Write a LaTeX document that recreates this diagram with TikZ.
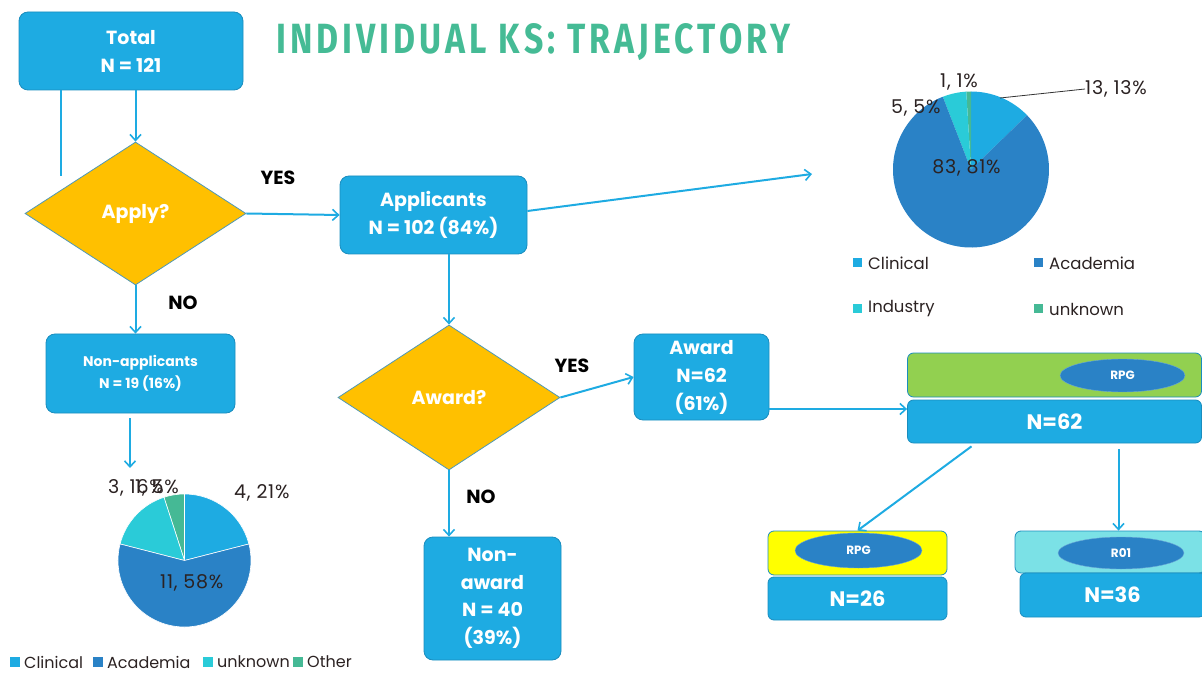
\documentclass[tikz,border=0pt]{standalone}
\usepackage{fontspec}
\usepackage{graphicx}
\setmainfont{Poppins}
\newfontfamily\headfont{Fira Sans}
\usetikzlibrary{positioning}
\usetikzlibrary{shapes.geometric}
\usetikzlibrary{arrows.meta}
\definecolor{boxblue}{HTML}{1EABE2}
\definecolor{boxedge}{HTML}{1A8DBE}
\definecolor{askfill}{HTML}{FFC000}
\definecolor{askedge}{HTML}{4E98B8}
\definecolor{clin}{HTML}{1EABE2}
\definecolor{acad}{HTML}{2A82C6}
\definecolor{cyanslice}{HTML}{2ACBD8}
\definecolor{greenslice}{HTML}{45B995}
\definecolor{titlegreen}{HTML}{45BB95}
\definecolor{rpggreen}{HTML}{92D050}
\definecolor{rpgyellow}{HTML}{FFFF00}
\definecolor{rteal}{HTML}{7BE1E6}
\definecolor{labeltext}{HTML}{2B2222}

\begin{document}
\begin{tikzpicture}[x=1pt, y=1pt,
		box/.style={draw=boxedge, fill=boxblue, rounded corners=9pt, text=white, font=\bfseries\fontsize{19}{28}\selectfont, align=center, inner sep=0pt, line width=0.8pt},
		band/.style={box, rounded corners=6pt, font=\bfseries\fontsize{21}{24}\selectfont},
		ask/.style={diamond, draw=askedge, fill=askfill, text=white, font=\bfseries\fontsize{19}{22}\selectfont, inner sep=0pt, line width=0.8pt},
		flow/.style={draw=boxblue, line width=2pt, -{Straight Barb[length=6pt, width=11pt, line width=1.6pt]}},
		answer/.style={font=\bfseries\fontsize{19}{22}\selectfont, text=black},
		pct/.style={font=\fontsize{19}{22}\selectfont\addfontfeatures{LetterSpace=4}, text=labeltext, inner sep=0pt},
		key/.style={font=\fontsize{16}{19}\selectfont, text=labeltext, anchor=west, inner sep=0pt},
		tag/.style={ellipse, draw=acad!70!white, fill=acad, text=white, font=\bfseries\fontsize{12}{14}\selectfont, minimum width=125pt, minimum height=33pt, inner sep=0pt}
	]
	\useasboundingbox (0,0) rectangle (1202,673);

	\node[box, minimum width=224pt, minimum height=78pt] (total) at (131,622) {Total\\N = 121};
	\node[anchor=south west, inner sep=0pt, text=titlegreen] (title) at (276,612)
		{\resizebox{514pt}{30pt}{\headfont\bfseries\addfontfeatures{LetterSpace=12}INDIVIDUAL KS: TRAJECTORY}};

	\node[ask, minimum width=221pt, minimum height=143pt] (apply) at (135.5,459.5) {Apply?};
	\node[box, minimum width=187pt, minimum height=78pt] (appl) at (433.5,458) {Applicants\\N = 102 (84\%)};
	\node[box, minimum width=189pt, minimum height=79pt, font=\bfseries\fontsize{14}{22}\selectfont] (nonapp) at (140.5,299.5) {Non-applicants\\N = 19 (16\%)};
	\node[ask, minimum width=222pt, minimum height=145pt] (award) at (449,275.5) {Award?};
	\node[box, minimum width=135pt, minimum height=86pt] (won) at (701.5,296) {Award\\N=62\\(61\%)};
	\node[box, minimum width=137pt, minimum height=123pt, font=\bfseries\fontsize{19}{27.5}\selectfont] (lost) at (492.5,74.5) {Non-\\award\\N = 40\\(39\%)};

	\node[answer] (yes1) at (278,495) {YES};
	\node[answer] (no1) at (183,370) {NO};
	\node[answer] (yes2) at (572,307) {YES};
	\node[answer] (no2) at (481,176) {NO};

	\node[band, fill=rpggreen, minimum width=294pt, minimum height=44pt] (g62) at (1054.5,298) {};
	\node[tag] (t62) at (1122.5,297.5) {RPG};
	\node[band, minimum width=294pt, minimum height=43pt] (n62) at (1054.5,251.5) {N=62};
	\node[band, fill=rpgyellow, minimum width=179pt, minimum height=44pt] (g26) at (857.5,120) {};
	\node[tag, minimum width=127pt, minimum height=35pt] (t26) at (858.5,122.5) {RPG};
	\node[band, minimum width=179pt, minimum height=43pt] (n26) at (857.5,74.5) {N=26};
	\node[band, fill=rteal, minimum width=190pt, minimum height=42pt] (g36) at (1110,121) {};
	\node[tag, minimum width=126pt, minimum height=32pt] (t36) at (1121,120) {R01};
	\node[band, minimum width=185pt, minimum height=44pt] (n36) at (1112.5,78) {N=36};

	\coordinate (stub) at (61,497);
	\coordinate (toright) at (812,499);
	\coordinate (toleft) at (130,205);
	\coordinate (wonout) at ([yshift=-32pt]won.east);
	\coordinate (splitl) at ([xshift=-79pt]n62.south);
	\coordinate (splitr) at ([xshift=64pt]n62.south);

	\draw[boxblue, line width=1.2pt] (stub |- total.south) -- (stub);
	\draw[flow] (apply.north |- total.south) -- (apply.north);
	\draw[flow] (apply.east) -- (appl.west);
	\draw[flow] ([yshift=4pt]appl.east) -- (toright);
	\draw[flow] (award.north |- appl.south) -- (award.north);
	\draw[flow] (apply.south) -- (apply.south |- nonapp.north);
	\draw[flow, shorten <=5pt] (toleft |- nonapp.south) -- (toleft);
	\draw[flow] (award.east) -- (won.west);
	\draw[flow] (wonout) -- (wonout -| n62.west);
	\draw[flow] (award.south) -- (award.south |- lost.north);
	\draw[flow, shorten <=5pt] (splitl) -- (g26.north);
	\draw[flow, shorten <=6pt] (splitr) -- (splitr |- g36.north);

	% non-applicants pie
	\coordinate (lpie) at (184.5,112.5);
	\foreach \from/\to/\col in {14.4/90/clin, 90/108/greenslice, 108/165.6/cyanslice, 165.6/374.4/acad}
		\filldraw[fill=\col, draw=white, line width=0.6pt] (lpie) -- ++(\from:66.5) arc[start angle=\from, end angle=\to, radius=66.5] -- cycle;
	\node[pct, anchor=west] (l21) at (234,180) {4, 21\%};
	\node[pct, anchor=west] (l58) at (160,90) {11, 58\%};
	\node[pct, anchor=west] (l16) at (108,185) {3, 16\%};
	\node[pct, anchor=west] (l5) at (135,185) {1, 5\%};
	\foreach \col/\txt/\x in {clin/Clinical/10, acad/Academia/93, cyanslice/unknown/203, greenslice/Other/293} {
		\fill[\col] (\x,6) rectangle ++(10,10);
		\node[key] (key\txt) at (\x+14,11) {\txt};
	}

	% applicants pie
	\coordinate (rpie) at (971,503.5);
	\foreach \from/\to/\col in {44.1/90/clin, 90/93.5/greenslice, 93.5/111.2/cyanslice, 111.2/404.1/acad}
		\fill[\col] (rpie) -- ++(\from:78) arc[start angle=\from, end angle=\to, radius=78] -- cycle;
	\node[pct, anchor=west] (r1) at (940,591) {1, 1\%};
	\node[pct, anchor=west] (r13) at (1085,584) {13, 13\%};
	\node[pct, anchor=west] (r5) at (891,565) {5, 5\%};
	\node[pct] (r81) at (966.5,505) {83, 81\%};
	\coordinate (lead) at (1000,575);
	\draw[black!80, line width=0.8pt] (lead) -- (r13.west);
	\foreach \col/\txt/\x/\y in {clin/Clinical/853/410, acad/Academia/1034/410, cyanslice/Industry/853/364, greenslice/unknown/1034/364} {
		\fill[\col] (\x,\y-4.5) rectangle ++(9,9);
		\node[key, font=\fontsize{16.5}{20}\selectfont] (rkey\txt) at (\x+15,\y) {\txt};
	}
\end{tikzpicture}
\end{document}
